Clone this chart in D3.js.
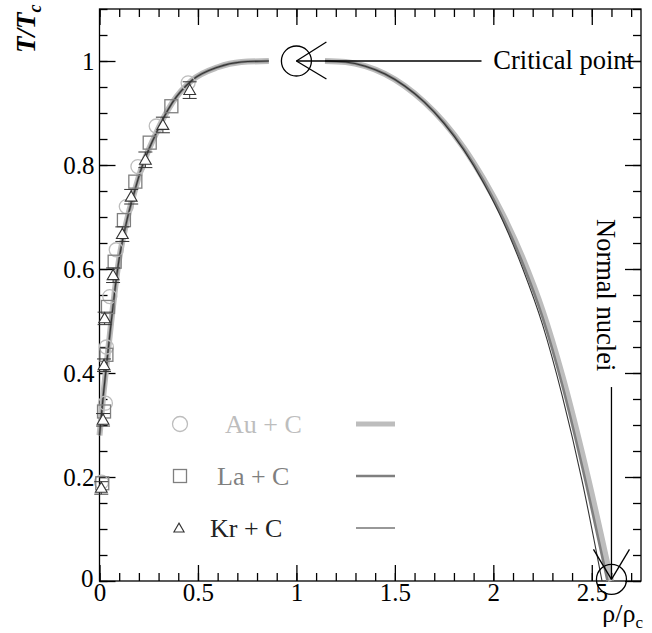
<!DOCTYPE html>
<html>
<head>
<meta charset="utf-8">
<script src="https://cdn.jsdelivr.net/npm/d3@7"></script>
<style>
  html, body { margin: 0; padding: 0; background: #fff; }
  svg { display: block; }
  text { font-family: "Liberation Serif", "Times New Roman", serif; }
</style>
</head>
<body>
<svg id="chart" width="652" height="633"></svg>
<script>
// ---------- data ----------
const seriesNames = ["Au + C", "La + C", "Kr + C"];

// measured points (rho/rho_c, T/T_c)
const auX = [0.010, 0.030, 0.035, 0.052, 0.085, 0.136, 0.195, 0.288, 0.450];
const auT = [0.190, 0.342, 0.450, 0.547, 0.637, 0.720, 0.797, 0.875, 0.958];
const laX = [0.014, 0.023, 0.035, 0.043, 0.077, 0.124, 0.182, 0.255, 0.365];
const laT = [0.188, 0.326, 0.435, 0.527, 0.614, 0.694, 0.768, 0.843, 0.913];
const krX = [0.009, 0.018, 0.023, 0.026, 0.069, 0.116, 0.161, 0.233, 0.322, 0.458];
const krT = [0.179, 0.310, 0.415, 0.505, 0.588, 0.667, 0.739, 0.810, 0.877, 0.944];
const krErr = [0.012, 0.012, 0.012, 0.012, 0.014, 0.014, 0.014, 0.015, 0.015, 0.016];

// fitted coexistence curves: gas (left) branch, shared
const leftX = [0.000, 0.020, 0.040, 0.060, 0.080, 0.100, 0.120, 0.140, 0.175, 0.210, 0.280, 0.370, 0.470, 0.600, 0.720, 0.860];
const leftT = [0.280, 0.360, 0.430, 0.500, 0.565, 0.620, 0.660, 0.695, 0.745, 0.790, 0.855, 0.920, 0.963, 0.988, 0.998, 1.000];
// liquid (right) branch, per system
const auRightX = [1.145, 1.25, 1.35, 1.45, 1.55, 1.65, 1.75, 1.85, 1.95, 2.05, 2.15, 2.25, 2.35, 2.45, 2.55, 2.598];
const auRightT = [1.000, 0.998, 0.990, 0.975, 0.952, 0.921, 0.882, 0.833, 0.773, 0.703, 0.620, 0.520, 0.395, 0.247, 0.083, 0.000];
const laRightX = [1.145, 1.25, 1.35, 1.45, 1.55, 1.65, 1.75, 1.85, 1.95, 2.05, 2.15, 2.25, 2.35, 2.45, 2.55, 2.580];
const laRightT = [1.000, 0.998, 0.990, 0.975, 0.952, 0.921, 0.881, 0.831, 0.770, 0.697, 0.610, 0.507, 0.377, 0.222, 0.052, 0.000];
const krRightX = [1.145, 1.25, 1.35, 1.45, 1.55, 1.65, 1.75, 1.85, 1.95, 2.05, 2.15, 2.25, 2.35, 2.45, 2.552];
const krRightT = [1.000, 0.998, 0.990, 0.975, 0.952, 0.921, 0.880, 0.829, 0.766, 0.691, 0.600, 0.493, 0.356, 0.194, 0.000];

// ticks
const xMajor = [0, 0.5, 1, 1.5, 2, 2.5];
const xMajorLabels = ["0", "0.5", "1", "1.5", "2", "2.5"];
const yMajor = [0, 0.2, 0.4, 0.6, 0.8, 1.0];
const yMajorLabels = ["0", "0.2", "0.4", "0.6", "0.8", "1"];
const xMinor = d3.range(0, 28).map(i => i / 10);
const yMinor = d3.range(0, 23).map(i => i / 20);

// annotations
const criticalPoint = [1.0, 1.0];
const normalNuclei = [2.6, 0.003];

// ---------- drawing ----------
const svg = d3.select("#chart");
const L = 99.5, R = 641, T = 9, B = 581;
const x = d3.scaleLinear().domain([0, 2.75]).range([L, R]);
const y = d3.scaleLinear().domain([0, 1.1]).range([B, T]);

const colAu = "#bdbdbd", colLa = "#7f7f7f", colKr = "#333333";

// axes
function styleAxis(g) {
  g.select(".domain").remove();
  g.selectAll("line").attr("stroke", "#000").attr("stroke-width", 1.3);
  g.selectAll("text").attr("font-family", "Liberation Serif").attr("font-size", 25).attr("fill", "#000");
}
svg.append("g").attr("transform", `translate(0,${B})`)
  .call(d3.axisBottom(x).tickValues(xMinor).tickSize(-8).tickFormat(""))
  .call(styleAxis);
svg.append("g").attr("transform", `translate(0,${B})`)
  .call(d3.axisBottom(x).tickValues(xMajor).tickSize(-16).tickPadding(2)
        .tickFormat((d, i) => xMajorLabels[i]))
  .call(styleAxis);
svg.append("g").attr("transform", `translate(0,${T})`)
  .call(d3.axisTop(x).tickValues(xMinor).tickSize(-8).tickFormat(""))
  .call(styleAxis);
svg.append("g").attr("transform", `translate(0,${T})`)
  .call(d3.axisTop(x).tickValues(xMajor).tickSize(-16).tickFormat(""))
  .call(styleAxis);
svg.append("g").attr("transform", `translate(${L},0)`)
  .call(d3.axisLeft(y).tickValues(yMinor).tickSize(-8).tickFormat(""))
  .call(styleAxis);
const yax = svg.append("g").attr("transform", `translate(${L},0)`)
  .call(d3.axisLeft(y).tickValues(yMajor).tickSize(-16).tickPadding(5)
        .tickFormat((d, i) => yMajorLabels[i]))
  .call(styleAxis);
yax.selectAll("text").filter(d => d === 0).attr("dy", "0.2em").attr("x", -6);
svg.append("g").attr("transform", `translate(${R},0)`)
  .call(d3.axisRight(y).tickValues(yMinor).tickSize(-8).tickFormat(""))
  .call(styleAxis);
svg.append("g").attr("transform", `translate(${R},0)`)
  .call(d3.axisRight(y).tickValues(yMajor).tickSize(-16).tickFormat(""))
  .call(styleAxis);

// frame
svg.append("rect").attr("x", L).attr("y", T).attr("width", R - L).attr("height", B - T)
  .attr("fill", "none").attr("stroke", "#000").attr("stroke-width", 1.3);

// curves
const line = d3.line().x(d => x(d[0])).y(d => y(d[1])).curve(d3.curveMonotoneX);
const leftPts = leftX.map((v, i) => [v, leftT[i]]);
const curves = [
  { rx: auRightX, rt: auRightT, color: colAu, w: 6 },
  { rx: laRightX, rt: laRightT, color: colLa, w: 2.6 },
  { rx: krRightX, rt: krRightT, color: colKr, w: 1.1 }
];
curves.forEach(c => {
  svg.append("path").attr("d", line(leftPts)).attr("fill", "none")
    .attr("stroke", c.color).attr("stroke-width", c.w);
  svg.append("path").attr("d", line(c.rx.map((v, i) => [v, c.rt[i]]))).attr("fill", "none")
    .attr("stroke", c.color).attr("stroke-width", c.w);
});

// markers
const gm = svg.append("g");
auX.forEach((v, i) => {
  gm.append("circle").attr("cx", x(v)).attr("cy", y(auT[i])).attr("r", 7)
    .attr("fill", "none").attr("stroke", colAu).attr("stroke-width", 1.3);
});
laX.forEach((v, i) => {
  gm.append("rect").attr("x", x(v) - 6.5).attr("y", y(laT[i]) - 6.5).attr("width", 13).attr("height", 13)
    .attr("fill", "none").attr("stroke", colLa).attr("stroke-width", 1.3);
});
const tri = d3.symbol().type(d3.symbolTriangle).size(60);
krX.forEach((v, i) => {
  const cx = x(v), cy = y(krT[i]), y1 = y(krT[i] + krErr[i]), y2 = y(krT[i] - krErr[i]);
  gm.append("line").attr("x1", cx).attr("x2", cx).attr("y1", y1).attr("y2", y2).attr("stroke", colKr).attr("stroke-width", 1);
  gm.append("line").attr("x1", cx - 7).attr("x2", cx + 7).attr("y1", y1).attr("y2", y1).attr("stroke", colKr).attr("stroke-width", 1);
  gm.append("line").attr("x1", cx - 7).attr("x2", cx + 7).attr("y1", y2).attr("y2", y2).attr("stroke", colKr).attr("stroke-width", 1);
  gm.append("path").attr("d", tri).attr("transform", `translate(${cx},${cy + 1})`)
    .attr("fill", "#fff").attr("stroke", colKr).attr("stroke-width", 1.1);
});

// critical point annotation
const cpx = x(criticalPoint[0]), cpy = y(criticalPoint[1]);
const ga = svg.append("g").attr("stroke", "#000").attr("stroke-width", 1.3).attr("fill", "none");
ga.append("circle").attr("cx", cpx).attr("cy", cpy).attr("r", 15);
ga.append("line").attr("x1", cpx).attr("y1", cpy).attr("x2", cpx + 30).attr("y2", cpy - 19);
ga.append("line").attr("x1", cpx).attr("y1", cpy).attr("x2", cpx + 30).attr("y2", cpy + 18);
ga.append("line").attr("x1", cpx).attr("y1", cpy).attr("x2", x(1.94)).attr("y2", cpy);
svg.append("text").attr("x", x(2.0)).attr("y", cpy + 8).attr("font-size", 26.5).text("Critical point");

// normal nuclei annotation
const nnx = x(normalNuclei[0]), nny = y(normalNuclei[1]);
ga.append("circle").attr("cx", nnx).attr("cy", nny).attr("r", 15);
ga.append("line").attr("x1", nnx).attr("y1", nny).attr("x2", nnx + 18).attr("y2", nny - 30);
ga.append("line").attr("x1", nnx).attr("y1", nny).attr("x2", nnx - 18).attr("y2", nny - 30);
ga.append("line").attr("x1", nnx).attr("y1", nny).attr("x2", nnx).attr("y2", y(0.373));
svg.append("text").attr("transform", `translate(597,219) rotate(90)`).attr("font-size", 26.5).text("Normal nuclei");

// legend
const legY = [424, 476, 528];
const legTextX = [225, 217, 210];
const legTextCol = [colAu, colLa, "#222"];
const lg = svg.append("g");
lg.append("circle").attr("cx", 180).attr("cy", legY[0]).attr("r", 7.5)
  .attr("fill", "none").attr("stroke", colAu).attr("stroke-width", 1.3);
lg.append("rect").attr("x", 173.5).attr("y", legY[1] - 6.5).attr("width", 13).attr("height", 13)
  .attr("fill", "none").attr("stroke", colLa).attr("stroke-width", 1.3);
lg.append("path").attr("d", d3.symbol().type(d3.symbolTriangle).size(45)).attr("transform", `translate(179,${legY[2] + 1})`)
  .attr("fill", "none").attr("stroke", colKr).attr("stroke-width", 1.1);
seriesNames.forEach((n, i) => {
  lg.append("text").attr("x", legTextX[i]).attr("y", legY[i] + 9).attr("font-size", 26)
    .attr("fill", legTextCol[i]).text(n);
  lg.append("line").attr("x1", 356).attr("x2", 395).attr("y1", legY[i]).attr("y2", legY[i])
    .attr("stroke", curves[i].color).attr("stroke-width", curves[i].w === 6 ? 5 : (curves[i].w > 2 ? 2.6 : 1.2));
});

// axis titles
const yt = svg.append("text").attr("transform", "translate(35,53) rotate(-90)")
  .attr("font-size", 27).attr("font-style", "italic").attr("font-weight", "bold");
yt.append("tspan").text("T/T");
yt.append("tspan").attr("font-size", 18).attr("dy", 6).text("c");

const xt = svg.append("text").attr("x", 643).attr("y", 622).attr("text-anchor", "end").attr("font-size", 26);
xt.append("tspan").text("ρ/ρ");
xt.append("tspan").attr("font-size", 17).attr("dy", 6).text("c");
</script>
</body>
</html>
